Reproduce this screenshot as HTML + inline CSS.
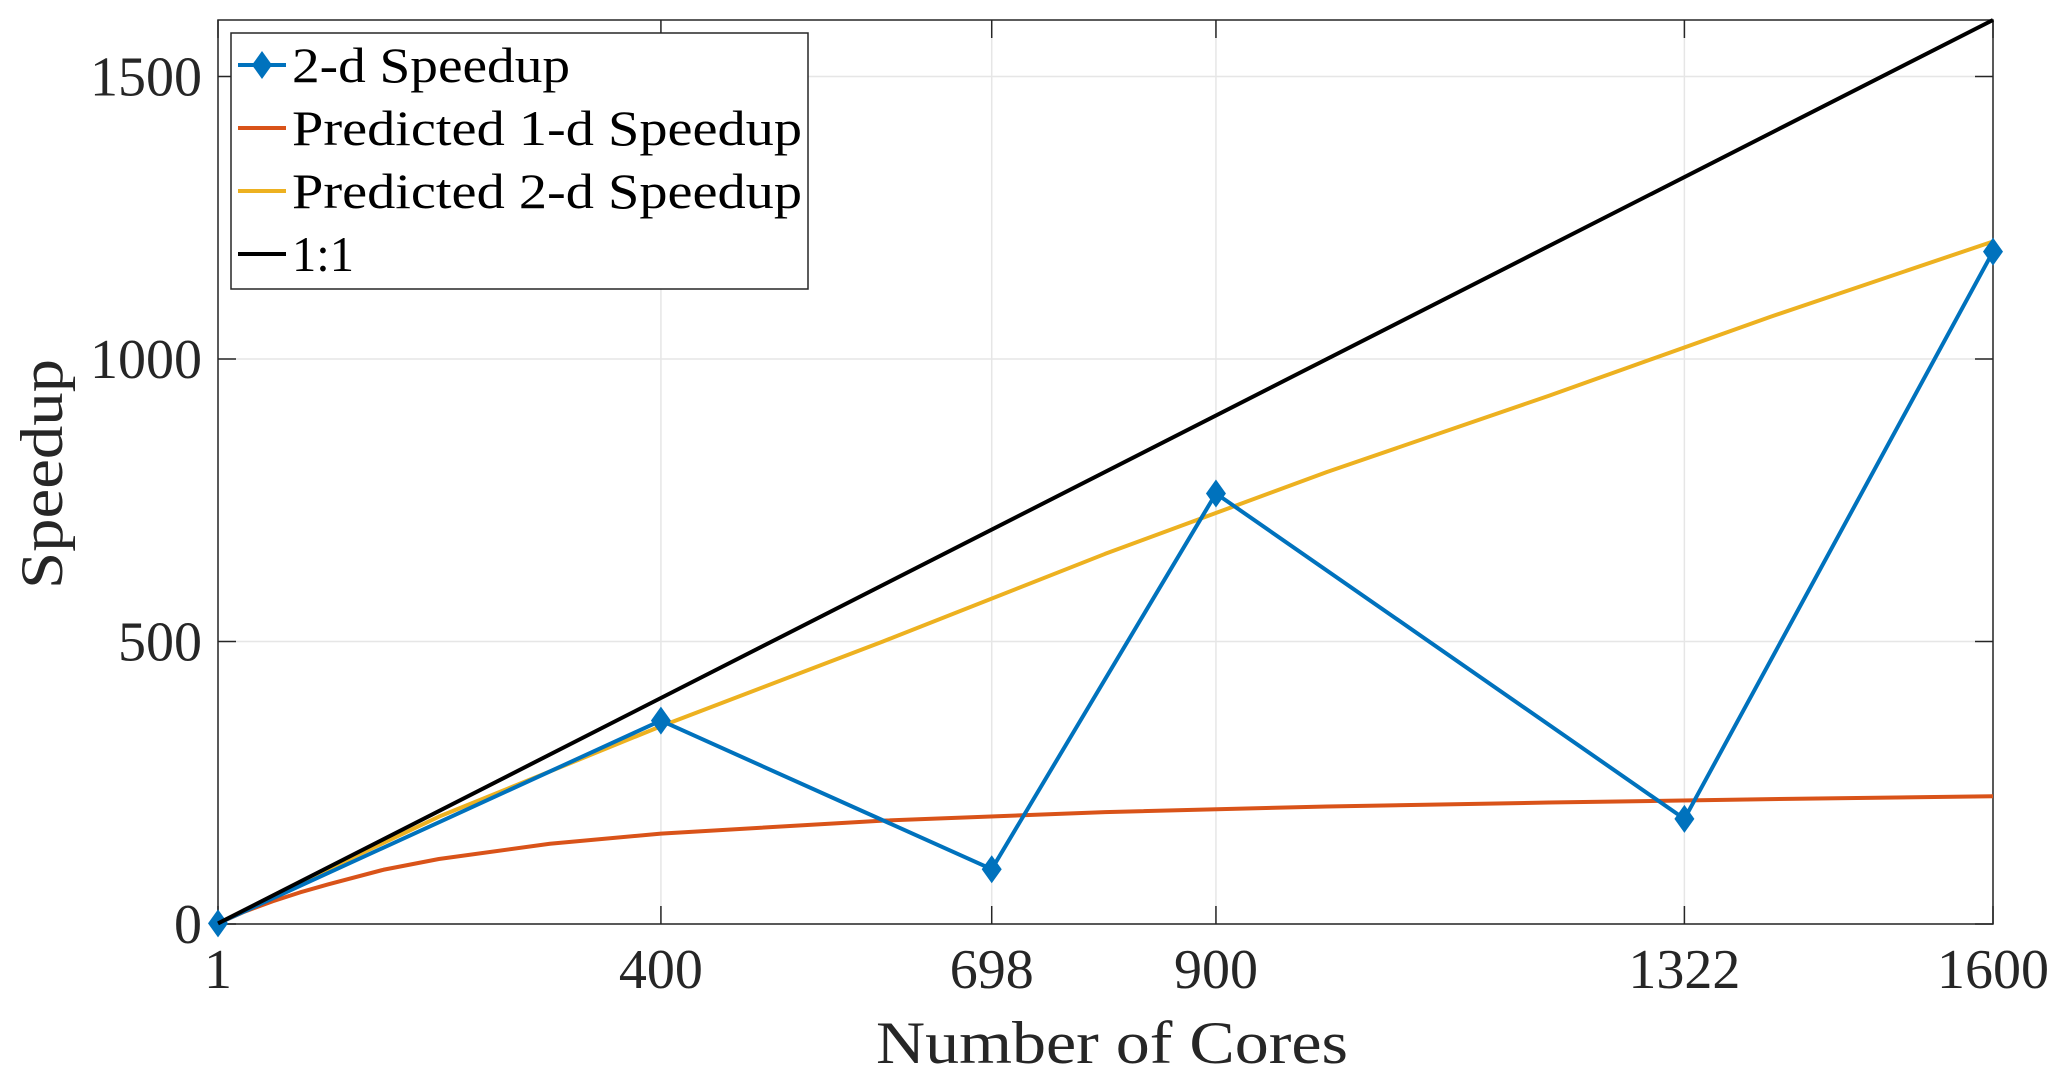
<!DOCTYPE html>
<html><head><meta charset="utf-8"><style>
html,body{margin:0;padding:0;background:#fff;}
svg{display:block;font-family:"Liberation Serif",serif;}
</style></head><body>
<svg id="chart" width="2067" height="1082"></svg>
<script>
const xTicks=[1,400,698,900,1322,1600];
const yTicks=[0,500,1000,1500];
const coresX=[1,400,698,900,1322,1600];
const speedup2d=[1,360,97,762,186,1190];
const predX=[1,25,50,75,100,150,200,300,400,600,800,1000,1200,1400,1600];
const pred1d=[1,22,40,56,70,96,115,142,160,183,198,208,215,221,226];
const pred2dX=[1,100,200,400,600,800,1000,1200,1400,1600];
const pred2d=[1,97,190,350,500,655,800,935,1075,1208];
const oneX=[1,1600];
const oneY=[1,1600];

const L=218,R=1993,T=20,B=924,xmin=1,xmax=1600,ymin=0,ymax=1600;
const sx=v=>L+(v-xmin)/(xmax-xmin)*(R-L);
const sy=v=>B-(v-ymin)/(ymax-ymin)*(B-T);
const svg=document.getElementById('chart');
const NS='http://www.w3.org/2000/svg';
function mk(tag,attrs,parent){const e=document.createElementNS(NS,tag);for(const k in attrs)e.setAttribute(k,attrs[k]);(parent||svg).appendChild(e);return e;}

xTicks.forEach(t=>{const g=mk('line',{x1:sx(t),x2:sx(t),y1:T,y2:B,stroke:'#e6e6e6','stroke-width':1.5});

});
yTicks.forEach(t=>{const g=mk('line',{x1:L,x2:R,y1:sy(t),y2:sy(t),stroke:'#e6e6e6','stroke-width':1.5});

});

const box=mk('rect',{x:L,y:T,width:R-L,height:B-T,fill:'none',stroke:'#262626','stroke-width':1.5});



xTicks.forEach(t=>{
 mk('line',{x1:sx(t),x2:sx(t),y1:B,y2:B-18,stroke:'#262626','stroke-width':1.5});
 mk('line',{x1:sx(t),x2:sx(t),y1:T,y2:T+18,stroke:'#262626','stroke-width':1.5});
 const tx=mk('text',{x:sx(t),y:988,'text-anchor':'middle','font-size':56,fill:'#262626'});
 tx.textContent=t;
 
 
});
yTicks.forEach(t=>{
 mk('line',{x1:L,x2:L+18,y1:sy(t),y2:sy(t),stroke:'#262626','stroke-width':1.5});
 mk('line',{x1:R,x2:R-18,y1:sy(t),y2:sy(t),stroke:'#262626','stroke-width':1.5});
 const tx=mk('text',{x:202,y:sy(t)+19,'text-anchor':'end','font-size':56,fill:'#262626'});
 tx.textContent=t;
 
 
});

function line(xs,ys,color,name){
 const p=mk('polyline',{points:xs.map((x,i)=>sx(x)+','+sy(ys[i])).join(' '),fill:'none',stroke:color,'stroke-width':4,'stroke-linejoin':'round'});
 
 
}
line(predX,pred1d,'#D95319','predicted-1d-line');
line(pred2dX,pred2d,'#EDB120','predicted-2d-line');
line(coresX,speedup2d,'#0072BD','speedup-2d-line');
coresX.forEach((x,i)=>{
 const cx=sx(x),cy=sy(speedup2d[i]);
 const m=mk('polygon',{points:`${cx},${cy-14} ${cx+10},${cy} ${cx},${cy+14} ${cx-10},${cy}`,fill:'#0072BD'});
 
 
});
line(oneX,oneY,'#000000','one-to-one-line');

const xt=mk('text',{x:1112,y:1063,'text-anchor':'middle','font-size':60,fill:'#262626',textLength:472,lengthAdjust:'spacingAndGlyphs'});
xt.textContent='Number of Cores';


const yt=mk('text',{x:0,y:0,'text-anchor':'middle','font-size':60,fill:'#262626',textLength:230,lengthAdjust:'spacingAndGlyphs',transform:'translate(62,474) rotate(-90)'});
yt.textContent='Speedup';



const lg=mk('g',{});


mk('rect',{x:231,y:33,width:577,height:256,fill:'#fff',stroke:'#262626','stroke-width':1.5},lg);
const entries=[['2-d Speedup','#0072BD',true,278],['Predicted 1-d Speedup','#D95319',false,510],['Predicted 2-d Speedup','#EDB120',false,510],['1:1','#000000',false,62]];
entries.forEach((e,i)=>{
 const cy=65+i*63;
 const g=mk('g',{},lg);
 
 
 mk('line',{x1:238,x2:286,y1:cy,y2:cy,stroke:e[1],'stroke-width':4},g);
 if(e[2]) mk('polygon',{points:`262,${cy-14} 272,${cy} 262,${cy+14} 252,${cy}`,fill:e[1]},g);
 const t=mk('text',{x:292,y:cy+17,'font-size':50,fill:'#000',textLength:e[3],lengthAdjust:'spacingAndGlyphs'},g);
 t.textContent=e[0];
});
</script>
</body></html>
